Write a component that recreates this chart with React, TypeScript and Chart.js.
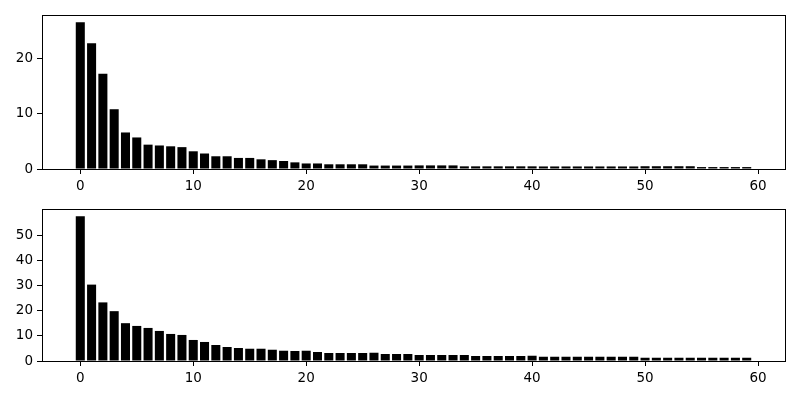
import React, { useEffect, useRef } from "react";
import { Chart, registerables } from "chart.js";

Chart.register(...registerables);

const topValues: number[] = [
  26.5, 22.7, 17.2, 10.8, 6.6, 5.7, 4.4, 4.25, 4.1, 3.95,
  3.2, 2.8, 2.3, 2.3, 2.0, 2.0, 1.75, 1.6, 1.45, 1.2,
  1.0, 1.0, 0.85, 0.85, 0.85, 0.85, 0.62, 0.62, 0.62, 0.62,
  0.65, 0.65, 0.65, 0.65, 0.48, 0.48, 0.48, 0.48, 0.48, 0.48,
  0.48, 0.46, 0.46, 0.46, 0.46, 0.46, 0.46, 0.46, 0.46, 0.46,
  0.5, 0.5, 0.5, 0.5, 0.5, 0.35, 0.35, 0.35, 0.35, 0.35,
];

const bottomValues: number[] = [
  57.8, 30.5, 23.4, 19.9, 15.1, 14.0, 13.2, 12.0, 10.8, 10.4,
  8.4, 7.6, 6.4, 5.6, 5.2, 4.9, 4.9, 4.5, 4.1, 4.0,
  4.1, 3.6, 3.2, 3.2, 3.2, 3.2, 3.3, 2.8, 2.8, 2.8,
  2.4, 2.4, 2.4, 2.4, 2.4, 2.0, 2.0, 2.0, 2.0, 2.0,
  2.1, 1.7, 1.7, 1.7, 1.7, 1.7, 1.7, 1.7, 1.7, 1.7,
  1.3, 1.3, 1.3, 1.3, 1.3, 1.3, 1.3, 1.3, 1.3, 1.3,
];

const xTickValues: number[] = [0, 10, 20, 30, 40, 50, 60];
const topYTicks: number[] = [0, 10, 20];
const bottomYTicks: number[] = [0, 10, 20, 30, 40, 50];

const FONT = { family: "'DejaVu Sans', sans-serif", size: 13.5 };

const boxPlugin = {
  id: "boxPlugin",
  afterDraw(chart: any) {
    const { ctx, chartArea } = chart;
    ctx.save();
    ctx.strokeStyle = "#000";
    ctx.lineWidth = 1;
    ctx.strokeRect(
      Math.round(chartArea.left) + 0.5,
      Math.round(chartArea.top) + 0.5,
      Math.round(chartArea.right - chartArea.left),
      Math.round(chartArea.bottom - chartArea.top)
    );
    ctx.restore();
  },
};

function makeConfig(values: number[], yTicks: number[], padTop: number, xHeight: number) {
  const n = values.length;
  const xMin = -0.4 - 0.05 * (n - 1 + 0.8);
  const xMax = n - 1 + 0.4 + 0.05 * (n - 1 + 0.8);
  const yMax = Math.max(...values) * 1.05;
  return {
    type: "bar" as const,
    data: {
      datasets: [
        {
          data: values.map((v, i) => ({ x: i, y: v })),
          backgroundColor: "#000",
          borderWidth: 0,
          categoryPercentage: 1,
          barPercentage: 0.8,
        },
      ],
    },
    options: {
      responsive: false,
      animation: false as const,
      layout: { padding: { top: padTop, right: 15, left: 0, bottom: 0 } },
      plugins: { legend: { display: false }, tooltip: { enabled: false } },
      scales: {
        x: {
          type: "linear" as const,
          min: xMin,
          max: xMax,
          offset: false,
          grid: {
            offset: false,
            drawOnChartArea: false,
            drawTicks: true,
            tickLength: 5,
            tickColor: "#000",
          },
          border: { display: false },
          afterBuildTicks: (scale: any) => {
            scale.ticks = xTickValues.map((v) => ({ value: v }));
          },
          afterFit: (scale: any) => {
            scale.height = xHeight;
            scale.paddingLeft = 0;
            scale.paddingRight = 0;
          },
          ticks: { color: "#000", font: FONT, padding: 4, maxRotation: 0 },
        },
        y: {
          type: "linear" as const,
          min: 0,
          max: yMax,
          grid: {
            drawOnChartArea: false,
            drawTicks: true,
            tickLength: 5,
            tickColor: "#000",
          },
          border: { display: false },
          afterBuildTicks: (scale: any) => {
            scale.ticks = yTicks.map((v) => ({ value: v }));
          },
          afterFit: (scale: any) => {
            scale.width = 42;
            scale.paddingTop = 0;
            scale.paddingBottom = 0;
          },
          ticks: { color: "#000", font: FONT, padding: 4 },
        },
      },
    },
    plugins: [boxPlugin],
  };
}

function BarPanel(props: { values: number[]; yTicks: number[]; padTop: number; xHeight: number; top: number }) {
  const ref = useRef<HTMLCanvasElement | null>(null);
  useEffect(() => {
    if (!ref.current) return;
    const chart = new Chart(ref.current, makeConfig(props.values, props.yTicks, props.padTop, props.xHeight) as any);
    return () => chart.destroy();
  }, []);
  return (
    <canvas
      ref={ref}
      width={800}
      height={200}
      style={{ position: "absolute", left: 0, top: props.top, width: 800, height: 200 }}
    />
  );
}

export default function App() {
  return (
    <div style={{ position: "fixed", left: 0, top: 0, width: 800, height: 400, background: "#fff" }}>
      <BarPanel values={topValues} yTicks={topYTicks} padTop={15} xHeight={31} top={0} />
      <BarPanel values={bottomValues} yTicks={bottomYTicks} padTop={9} xHeight={39} top={200} />
    </div>
  );
}
